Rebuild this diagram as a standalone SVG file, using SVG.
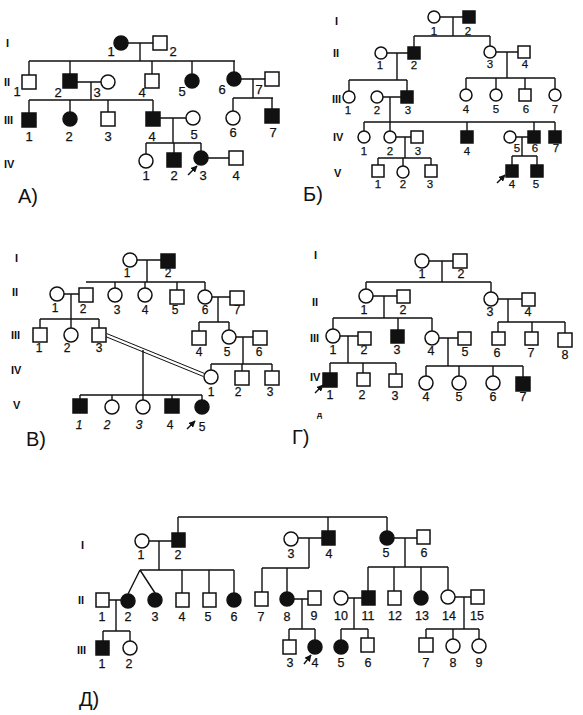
<svg xmlns="http://www.w3.org/2000/svg" width="583" height="715" viewBox="0 0 583 715">
<style>
.u{fill:#fff;stroke:#111;stroke-width:1.5}
.a{fill:#111;stroke:#111;stroke-width:1.5}
.ln{fill:none;stroke:#111;stroke-width:1.4}
text{font-family:"Liberation Sans",Arial,sans-serif;fill:#111}
.n{font-size:12px;text-anchor:middle;stroke:#111;stroke-width:0.25}
.pA .n{font-size:13px}
.pB .n{font-size:11.5px}
.pV .n{font-size:12px}
.pG .n{font-size:12.5px}
.pD .n{font-size:12.5px}
.it{font-style:italic}
.r{font-size:11px;font-weight:bold}
.p{font-size:20px}
.s{font-size:8px;font-weight:bold}
</style>
<defs>
<marker id="ah" viewBox="0 0 10 10" refX="9" refY="5" markerWidth="5" markerHeight="5" orient="auto"><path d="M0,0L10,5L0,10z" fill="#111"/></marker>
</defs>
<rect width="583" height="715" fill="#fff"/>

<!-- ============ Panel A ============ -->
<g id="A-labels">
<text class="r" x="6" y="47">I</text>
<text class="r" x="4" y="86">II</text>
<text class="r" x="4" y="124">III</text>
<text class="r" x="4" y="168">IV</text>
<text class="p" x="18" y="203">А)</text>
</g>
<g id="A-connectors" class="ln">
<path d="M128,43H153M140,43V61M29,61H235M29,61V75M70,61V74M152,61V74M192,61V74M234,61V72"/>
<path d="M77,82H101M91,82V100M29,100H153M29,100V113M70,100V112M108,100V112M153,100V112"/>
<path d="M241,79H265M253,79V98M233,98H273M233,98V111M272,98V109"/>
<path d="M160,118H186M173,118V143M146,143H201M146,143V154M174,143V153M201,143V151M208,158H229"/>
<path d="M188,175L197,166" marker-end="url(#ah)"/>
</g>
<g id="A-nodes" class="pA">
<g id="A-I-1"><circle class="a" cx="121" cy="43" r="7"/><text class="n" x="111" y="56">1</text></g>
<g id="A-I-2"><rect class="u" x="153" y="36" width="14" height="14"/><text class="n" x="173" y="56">2</text></g>
<g id="A-II-1"><rect class="u" x="22" y="75" width="14" height="14"/><text class="n" x="17" y="96">1</text></g>
<g id="A-II-2"><rect class="a" x="63" y="74" width="14" height="14"/><text class="n" x="58" y="97">2</text></g>
<g id="A-II-3"><circle class="u" cx="108" cy="82" r="7"/><text class="n" x="97" y="97">3</text></g>
<g id="A-II-4"><rect class="u" x="145" y="74" width="14" height="14"/><text class="n" x="142" y="97">4</text></g>
<g id="A-II-5"><circle class="a" cx="192" cy="81" r="7"/><text class="n" x="182" y="96">5</text></g>
<g id="A-II-6"><circle class="a" cx="234" cy="79" r="7"/><text class="n" x="222" y="94">6</text></g>
<g id="A-II-7"><rect class="u" x="265" y="72" width="14" height="14"/><text class="n" x="259" y="94">7</text></g>
<g id="A-III-1"><rect class="a" x="22" y="113" width="14" height="14"/><text class="n" x="29" y="141">1</text></g>
<g id="A-III-2"><circle class="a" cx="70" cy="119" r="7"/><text class="n" x="69" y="141">2</text></g>
<g id="A-III-3"><rect class="u" x="101" y="112" width="14" height="14"/><text class="n" x="108" y="141">3</text></g>
<g id="A-III-4"><rect class="a" x="146" y="112" width="14" height="14"/><text class="n" x="152" y="141">4</text></g>
<g id="A-III-5"><circle class="u" cx="193" cy="118" r="7"/><text class="n" x="194" y="139">5</text></g>
<g id="A-III-6"><circle class="u" cx="233" cy="118" r="7"/><text class="n" x="233" y="137">6</text></g>
<g id="A-III-7"><rect class="a" x="265" y="109" width="14" height="14"/><text class="n" x="273" y="137">7</text></g>
<g id="A-IV-1"><circle class="u" cx="146" cy="161" r="7"/><text class="n" x="146" y="180">1</text></g>
<g id="A-IV-2"><rect class="a" x="167" y="153" width="14" height="14"/><text class="n" x="174" y="180">2</text></g>
<g id="A-IV-3"><circle class="a" cx="201" cy="158" r="7"/><text class="n" x="203" y="180">3</text></g>
<g id="A-IV-4"><rect class="u" x="229" y="151" width="14" height="14"/><text class="n" x="236" y="180">4</text></g>
</g>

<!-- ============ Panel Б ============ -->
<g id="B-labels">
<text class="r" x="335" y="25">I</text>
<text class="r" x="333" y="57">II</text>
<text class="r" x="332" y="103">III</text>
<text class="r" x="333" y="141">IV</text>
<text class="r" x="334" y="177">V</text>
<text class="p" x="303" y="201">Б)</text>
</g>
<g id="B-connectors" class="ln">
<path d="M440,17H463M453,17V36M414,36H490M414,36V47M490,36V46"/>
<path d="M387,53H408M397,53V80M349,80H407M349,80V91M407,80V91"/>
<path d="M496,52H518M507,52V78M466,78H555M466,78V89M496,78V89M525,78V89M555,78V89"/>
<path d="M383,97H401M390,97V122M364,122H555M364,122V131M390,122V131M467,122V131M534,122V131M555,122V131"/>
<path d="M396,137H411M405,137V158M378,158H431M378,158V165M403,158V166M431,158V165"/>
<path d="M516,137H528M522,137V156M512,156H537M512,156V165M537,156V165"/>
<path d="M497,183L505,175" marker-end="url(#ah)"/>
</g>
<g id="B-nodes" class="pB">
<g id="B-I-1"><circle class="u" cx="434" cy="17" r="6"/><text class="n" x="434" y="35">1</text></g>
<g id="B-I-2"><rect class="a" x="463" y="11" width="12" height="12"/><text class="n" x="468" y="35">2</text></g>
<g id="B-II-1"><circle class="u" cx="381" cy="53" r="6"/><text class="n" x="380" y="69">1</text></g>
<g id="B-II-2"><rect class="a" x="408" y="47" width="12" height="12"/><text class="n" x="414" y="69">2</text></g>
<g id="B-II-3"><circle class="u" cx="490" cy="52" r="6"/><text class="n" x="490" y="68">3</text></g>
<g id="B-II-4"><rect class="u" x="518" y="46" width="12" height="12"/><text class="n" x="525" y="68">4</text></g>
<g id="B-III-1"><circle class="u" cx="349" cy="97" r="6"/><text class="n" x="348" y="114">1</text></g>
<g id="B-III-2"><circle class="u" cx="377" cy="97" r="6"/><text class="n" x="377" y="114">2</text></g>
<g id="B-III-3"><rect class="a" x="401" y="91" width="12" height="12"/><text class="n" x="408" y="114">3</text></g>
<g id="B-III-4"><circle class="u" cx="466" cy="95" r="6"/><text class="n" x="466" y="113">4</text></g>
<g id="B-III-5"><circle class="u" cx="496" cy="95" r="6"/><text class="n" x="496" y="113">5</text></g>
<g id="B-III-6"><rect class="u" x="519" y="89" width="12" height="12"/><text class="n" x="526" y="113">6</text></g>
<g id="B-III-7"><circle class="u" cx="555" cy="95" r="6"/><text class="n" x="555" y="113">7</text></g>
<g id="B-IV-1"><circle class="u" cx="364" cy="137" r="6"/><text class="n" x="364" y="155">1</text></g>
<g id="B-IV-2"><circle class="u" cx="390" cy="137" r="6"/><text class="n" x="390" y="155">2</text></g>
<g id="B-IV-3"><rect class="u" x="411" y="131" width="12" height="12"/><text class="n" x="418" y="155">3</text></g>
<g id="B-IV-4"><rect class="a" x="461" y="131" width="12" height="12"/><text class="n" x="467" y="155">4</text></g>
<g id="B-IV-5"><circle class="u" cx="510" cy="137" r="6"/><text class="n" x="517" y="152">5</text></g>
<g id="B-IV-6"><rect class="a" x="528" y="131" width="12" height="12"/><text class="n" x="535" y="152">6</text></g>
<g id="B-IV-7"><rect class="a" x="549" y="131" width="12" height="12"/><text class="n" x="556" y="152">7</text></g>
<g id="B-V-1"><rect class="u" x="372" y="165" width="12" height="12"/><text class="n" x="378" y="188">1</text></g>
<g id="B-V-2"><circle class="u" cx="403" cy="172" r="6"/><text class="n" x="403" y="188">2</text></g>
<g id="B-V-3"><rect class="u" x="425" y="165" width="12" height="12"/><text class="n" x="430" y="188">3</text></g>
<g id="B-V-4"><rect class="a" x="506" y="165" width="12" height="12"/><text class="n" x="512" y="188">4</text></g>
<g id="B-V-5"><rect class="a" x="531" y="165" width="12" height="12"/><text class="n" x="536" y="188">5</text></g>
</g>

<!-- ============ Panel В ============ -->
<g id="V-labels">
<text class="r" x="15" y="262">I</text>
<text class="r" x="12" y="296">II</text>
<text class="r" x="11" y="339">III</text>
<text class="r" x="11" y="374">IV</text>
<text class="r" x="13" y="409">V</text>
<text class="p" x="26" y="446">В)</text>
</g>
<g id="V-connectors" class="ln">
<path d="M137,260H161M147,260V282M86,282H205M115,282V288M145,282V288M177,282V290M205,282V290"/>
<path d="M64,294H79M71,294V319M40,319H99M40,319V328M71,319V328M99,319V328"/>
<path d="M212,297H230M218,297V322M199,322H229M199,322V331M229,322V330"/>
<path d="M236,337H253M243,337V364M211,364H272M211,364V370M242,364V371M272,364V371"/>
<path d="M106.6,333.5L204.6,373.5M105.4,336.5L203.4,376.5" stroke-width="1"/>
<path d="M143,350V400M80,395H202M80,395V399M112,395V400M172,395V399M202,395V400"/>
<path d="M187,429L195,421" marker-end="url(#ah)"/>
</g>
<g id="V-nodes" class="pV">
<g id="V-I-1"><circle class="u" cx="130" cy="260" r="7"/><text class="n" x="127" y="277">1</text></g>
<g id="V-I-2"><rect class="a" x="161" y="254" width="14" height="14"/><text class="n" x="168" y="277">2</text></g>
<g id="V-II-1"><circle class="u" cx="57" cy="294" r="7"/><text class="n" x="55" y="312">1</text></g>
<g id="V-II-2"><rect class="u" x="79" y="288" width="14" height="14"/><text class="n" x="83" y="313">2</text></g>
<g id="V-II-3"><circle class="u" cx="115" cy="295" r="7"/><text class="n" x="117" y="314">3</text></g>
<g id="V-II-4"><circle class="u" cx="145" cy="295" r="7"/><text class="n" x="145" y="314">4</text></g>
<g id="V-II-5"><rect class="u" x="170" y="290" width="14" height="14"/><text class="n" x="175" y="314">5</text></g>
<g id="V-II-6"><circle class="u" cx="205" cy="297" r="7"/><text class="n" x="205" y="314">6</text></g>
<g id="V-II-7"><rect class="u" x="230" y="291" width="14" height="14"/><text class="n" x="237" y="314">7</text></g>
<g id="V-III-1"><rect class="u" x="33" y="328" width="14" height="14"/><text class="n" x="39" y="352">1</text></g>
<g id="V-III-2"><circle class="u" cx="71" cy="335" r="7"/><text class="n" x="67" y="352">2</text></g>
<g id="V-III-3"><rect class="u" x="92" y="328" width="14" height="14"/><text class="n" x="99" y="352">3</text></g>
<g id="V-III-4"><rect class="u" x="192" y="331" width="14" height="14"/><text class="n" x="199" y="356">4</text></g>
<g id="V-III-5"><circle class="u" cx="229" cy="337" r="7"/><text class="n" x="227" y="356">5</text></g>
<g id="V-III-6"><rect class="u" x="253" y="331" width="14" height="14"/><text class="n" x="259" y="356">6</text></g>
<g id="V-IV-1"><circle class="u" cx="211" cy="377" r="7"/><text class="n" x="211" y="396">1</text></g>
<g id="V-IV-2"><rect class="u" x="235" y="371" width="14" height="14"/><text class="n" x="238" y="396">2</text></g>
<g id="V-IV-3"><rect class="u" x="265" y="371" width="14" height="14"/><text class="n" x="270" y="396">3</text></g>
<g id="V-V-1"><rect class="a" x="73" y="399" width="14" height="14"/><text class="n it" x="79" y="429">1</text></g>
<g id="V-V-2"><circle class="u" cx="112" cy="407" r="7"/><text class="n it" x="107" y="429">2</text></g>
<g id="V-V-3"><circle class="u" cx="143" cy="407" r="7"/><text class="n it" x="139" y="429">3</text></g>
<g id="V-V-4"><rect class="a" x="165" y="399" width="14" height="14"/><text class="n" x="170" y="429">4</text></g>
<g id="V-V-5"><circle class="a" cx="202" cy="407" r="7"/><text class="n" x="202" y="431">5</text></g>
</g>

<!-- ============ Panel Г ============ -->
<g id="G-labels">
<text class="r" x="314" y="259">I</text>
<text class="r" x="312" y="306">II</text>
<text class="r" x="310" y="342">III</text>
<text class="r" x="310" y="381">IV</text>
<text class="s" x="317" y="417">д</text>
<text class="p" x="292" y="444">Г)</text>
</g>
<g id="G-connectors" class="ln">
<path d="M429,261H453M442,261V282M366,282H491M366,282V289M491,282V292"/>
<path d="M373,296H397M384,296V318M333,318H432M333,318V329M398,318V330M432,318V331"/>
<path d="M498,299H522M508,299V322M498,322H565M498,322V332M532,322V332M565,322V333"/>
<path d="M340,336H358M348,336V363M330,363H396M330,363V373M363,363V373M396,363V374"/>
<path d="M439,338H458M448,338V366M426,366H523M426,366V376M459,366V376M493,366V376M523,366V377"/>
<path d="M315,393L323,385" marker-end="url(#ah)"/>
</g>
<g id="G-nodes" class="pG">
<g id="G-I-1"><circle class="u" cx="422" cy="261" r="7"/><text class="n" x="422" y="278">1</text></g>
<g id="G-I-2"><rect class="u" x="453" y="254" width="14" height="14"/><text class="n" x="461" y="278">2</text></g>
<g id="G-II-1"><circle class="u" cx="366" cy="296" r="7"/><text class="n" x="364" y="314">1</text></g>
<g id="G-II-2"><rect class="u" x="397" y="290" width="13" height="13"/><text class="n" x="403" y="314">2</text></g>
<g id="G-II-3"><circle class="u" cx="491" cy="299" r="7"/><text class="n" x="490" y="316">3</text></g>
<g id="G-II-4"><rect class="u" x="522" y="293" width="13" height="13"/><text class="n" x="528" y="316">4</text></g>
<g id="G-III-1"><circle class="u" cx="333" cy="336" r="7"/><text class="n" x="333" y="354">1</text></g>
<g id="G-III-2"><rect class="u" x="358" y="332" width="13" height="13"/><text class="n" x="364" y="354">2</text></g>
<g id="G-III-3"><rect class="a" x="391" y="330" width="13" height="13"/><text class="n" x="397" y="354">3</text></g>
<g id="G-III-4"><circle class="u" cx="432" cy="338" r="7"/><text class="n" x="431" y="355">4</text></g>
<g id="G-III-5"><rect class="u" x="458" y="332" width="13" height="13"/><text class="n" x="465" y="356">5</text></g>
<g id="G-III-6"><rect class="u" x="492" y="332" width="13" height="13"/><text class="n" x="497" y="357">6</text></g>
<g id="G-III-7"><rect class="u" x="525" y="332" width="13" height="13"/><text class="n" x="531" y="357">7</text></g>
<g id="G-III-8"><rect class="u" x="558" y="333" width="14" height="14"/><text class="n" x="565" y="359">8</text></g>
<g id="G-IV-1"><rect class="a" x="323" y="373" width="14" height="14"/><text class="n" x="330" y="399">1</text></g>
<g id="G-IV-2"><rect class="u" x="357" y="373" width="13" height="13"/><text class="n" x="362" y="399">2</text></g>
<g id="G-IV-3"><rect class="u" x="389" y="374" width="13" height="13"/><text class="n" x="395" y="400">3</text></g>
<g id="G-IV-4"><circle class="u" cx="426" cy="383" r="7"/><text class="n" x="426" y="401">4</text></g>
<g id="G-IV-5"><circle class="u" cx="459" cy="383" r="7"/><text class="n" x="459" y="401">5</text></g>
<g id="G-IV-6"><circle class="u" cx="493" cy="383" r="7"/><text class="n" x="493" y="401">6</text></g>
<g id="G-IV-7"><rect class="a" x="516" y="377" width="14" height="14"/><text class="n" x="523" y="401">7</text></g>
</g>

<!-- ============ Panel Д ============ -->
<g id="D-labels">
<text class="r" x="81" y="549">I</text>
<text class="r" x="78" y="604">II</text>
<text class="r" x="77" y="654">III</text>
<text class="p" x="79" y="706">Д)</text>
</g>
<g id="D-connectors" class="ln">
<path d="M178,517H387M178,517V533M328,517V531M387,517V531"/>
<path d="M149,541H172M159,541V570M140,570H234M182,570V593M209,570V593M234,570V593M140,570L128,594M140,570L155,593"/>
<path d="M109,600H121M116,600V631M103,631H130M103,631V641M130,631V641"/>
<path d="M298,538H322M309,538V568M262,568H309M262,568V592M287,568V592"/>
<path d="M294,599H308M302,599V629M289,629H315M289,629V640M315,629V640"/>
<path d="M394,538H417M405,538V567M368,567H448M368,567V592M394,567V591M421,567V591M448,567V590"/>
<path d="M348,598H362M354,598V629M341,629H368M341,629V640M368,629V638"/>
<path d="M455,597H471M464,597V629M426,629H479M426,629V638M453,629V639M479,629V639"/>
<path d="M304,664L311,655" marker-end="url(#ah)"/>
</g>
<g id="D-nodes" class="pD">
<g id="D-I-1"><circle class="u" cx="142" cy="541" r="7"/><text class="n" x="141" y="559">1</text></g>
<g id="D-I-2"><rect class="a" x="172" y="533" width="13" height="14"/><text class="n" x="178" y="559">2</text></g>
<g id="D-I-3"><circle class="u" cx="291" cy="539" r="7"/><text class="n" x="291" y="558">3</text></g>
<g id="D-I-4"><rect class="a" x="322" y="531" width="13" height="14"/><text class="n" x="329" y="558">4</text></g>
<g id="D-I-5"><circle class="a" cx="387" cy="538" r="7"/><text class="n" x="386" y="557">5</text></g>
<g id="D-I-6"><rect class="u" x="417" y="530" width="13" height="14"/><text class="n" x="424" y="557">6</text></g>
<g id="D-II-1"><rect class="u" x="96" y="593" width="13" height="14"/><text class="n" x="102" y="621">1</text></g>
<g id="D-II-2"><circle class="a" cx="128" cy="601" r="7"/><text class="n" x="128" y="621">2</text></g>
<g id="D-II-3"><circle class="a" cx="155" cy="600" r="7"/><text class="n" x="155" y="621">3</text></g>
<g id="D-II-4"><rect class="u" x="176" y="593" width="13" height="14"/><text class="n" x="182" y="621">4</text></g>
<g id="D-II-5"><rect class="u" x="203" y="593" width="13" height="14"/><text class="n" x="208" y="621">5</text></g>
<g id="D-II-6"><circle class="a" cx="234" cy="600" r="7"/><text class="n" x="234" y="621">6</text></g>
<g id="D-II-7"><rect class="u" x="255" y="592" width="13" height="14"/><text class="n" x="261" y="621">7</text></g>
<g id="D-II-8"><circle class="a" cx="287" cy="599" r="7"/><text class="n" x="287" y="621">8</text></g>
<g id="D-II-9"><rect class="u" x="308" y="591" width="13" height="14"/><text class="n" x="314" y="620">9</text></g>
<g id="D-II-10"><circle class="u" cx="341" cy="598" r="7"/><text class="n" x="341" y="620">10</text></g>
<g id="D-II-11"><rect class="a" x="362" y="591" width="13" height="14"/><text class="n" x="368" y="620">11</text></g>
<g id="D-II-12"><rect class="u" x="388" y="591" width="13" height="14"/><text class="n" x="395" y="620">12</text></g>
<g id="D-II-13"><circle class="a" cx="421" cy="598" r="7"/><text class="n" x="422" y="620">13</text></g>
<g id="D-II-14"><circle class="u" cx="448" cy="597" r="7"/><text class="n" x="449" y="620">14</text></g>
<g id="D-II-15"><rect class="u" x="471" y="590" width="13" height="14"/><text class="n" x="477" y="620">15</text></g>
<g id="D-III-1"><rect class="a" x="96" y="641" width="13" height="14"/><text class="n" x="102" y="668">1</text></g>
<g id="D-III-2"><circle class="u" cx="130" cy="648" r="7"/><text class="n" x="129" y="668">2</text></g>
<g id="D-III-3"><rect class="u" x="283" y="640" width="13" height="14"/><text class="n" x="290" y="667">3</text></g>
<g id="D-III-4"><circle class="a" cx="315" cy="647" r="7"/><text class="n" x="315" y="667">4</text></g>
<g id="D-III-5"><circle class="a" cx="341" cy="647" r="7"/><text class="n" x="341" y="667">5</text></g>
<g id="D-III-6"><rect class="u" x="361" y="638" width="13" height="14"/><text class="n" x="368" y="667">6</text></g>
<g id="D-III-7"><rect class="u" x="419" y="638" width="14" height="14"/><text class="n" x="426" y="667">7</text></g>
<g id="D-III-8"><circle class="u" cx="453" cy="646" r="7"/><text class="n" x="453" y="667">8</text></g>
<g id="D-III-9"><circle class="u" cx="479" cy="646" r="7"/><text class="n" x="479" y="667">9</text></g>
</g>
</svg>
